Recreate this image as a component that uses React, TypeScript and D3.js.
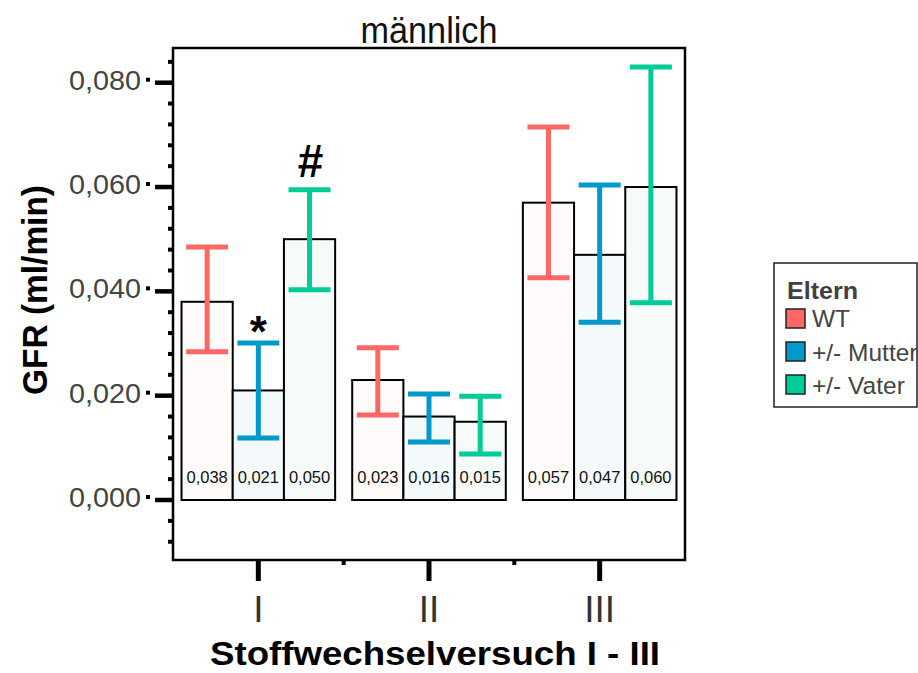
import React from "react";
import * as d3 from "d3";

// Categories, groups and values
const categories = ["I", "II", "III"];
const groups = ["WT", "+/- Mutter", "+/- Vater"];
const means = [
  [0.038, 0.021, 0.05],
  [0.023, 0.016, 0.015],
  [0.057, 0.047, 0.06],
];
const lower = [
  [0.0284, 0.0119, 0.0403],
  [0.0163, 0.0111, 0.0088],
  [0.0426, 0.0341, 0.0378],
];
const upper = [
  [0.0485, 0.0301, 0.0595],
  [0.0292, 0.0203, 0.0199],
  [0.0715, 0.0604, 0.083],
];
const valueLabels = [
  ["0,038", "0,021", "0,050"],
  ["0,023", "0,016", "0,015"],
  ["0,057", "0,047", "0,060"],
];
const yTicks = [0, 0.02, 0.04, 0.06, 0.08];
const yTickLabels = ["0,000", "0,020", "0,040", "0,060", "0,080"];
const marks = [
  { cat: "I", group: "+/- Mutter", text: "*" },
  { cat: "I", group: "+/- Vater", text: "#" },
];

const lineColors = ["#FF6666", "#0099CC", "#00CC99"];
const fillColors = ["#FFFBFB", "#F4F9FC", "#F6FBF9"];

const narrow = "'Liberation Sans Narrow', 'Arial Narrow', Arial, sans-serif";

export default function App() {
  const W = 918;
  const H = 673;
  const left = 173;
  const right = 685;
  const top = 48;
  const bottom = 560;

  const x = d3.scaleBand<string>().domain(categories).range([left, right]).paddingInner(0.1).paddingOuter(0.05);
  const xi = d3.scaleBand<string>().domain(groups).range([0, x.bandwidth()]);
  const y = d3.scaleLinear().domain([0, 0.08]).range([500, 82.7]);

  const minorY: number[] = d3.range(-8, 85, 4).map((v) => v / 1000).filter((v) => Math.round(v * 1000) % 20 !== 0);
  const step = x.step();
  const minorX = [1, 2].map((i) => left + step * i);

  const cap = 42;

  return (
    <svg width={W} height={H} style={{ position: "absolute", left: 0, top: 0, background: "#fff" }} fontFamily="Arial, 'Liberation Sans', sans-serif">
      {/* title */}
      <text x={(left + right) / 2} y={43} textAnchor="middle" fontSize={37} fill="#111" fontFamily={narrow} textLength={137} lengthAdjust="spacingAndGlyphs">
        männlich
      </text>

      {/* bars */}
      {categories.map((c, ci) =>
        groups.map((g, gi) => {
          const x0 = (x(c) as number) + (xi(g) as number);
          const w = xi.bandwidth();
          return (
            <g key={c + g}>
              <rect x={x0} y={y(means[ci][gi])} width={w} height={y(0) - y(means[ci][gi])} fill={fillColors[gi]} stroke="#000" strokeWidth={2} />
              <text x={x0 + w / 2} y={483} textAnchor="middle" fontSize={16.5} fill="#111">
                {valueLabels[ci][gi]}
              </text>
            </g>
          );
        })
      )}

      {/* error bars */}
      {categories.map((c, ci) =>
        groups.map((g, gi) => {
          const cx = (x(c) as number) + (xi(g) as number) + xi.bandwidth() / 2;
          const col = lineColors[gi];
          return (
            <g key={"e" + c + g} stroke={col} strokeWidth={5}>
              <line x1={cx} x2={cx} y1={y(upper[ci][gi])} y2={y(lower[ci][gi])} />
              <line x1={cx - cap / 2} x2={cx + cap / 2} y1={y(upper[ci][gi])} y2={y(upper[ci][gi])} />
              <line x1={cx - cap / 2} x2={cx + cap / 2} y1={y(lower[ci][gi])} y2={y(lower[ci][gi])} />
            </g>
          );
        })
      )}

      {/* significance marks */}
      {marks.map((m) => {
        const ci = categories.indexOf(m.cat);
        const gi = groups.indexOf(m.group);
        const cx = (x(m.cat) as number) + (xi(m.group) as number) + xi.bandwidth() / 2;
        const isStar = m.text === "*";
        return (
          <text key={m.text} x={cx + (isStar ? 0 : 1)} y={y(upper[ci][gi]) + (isStar ? 4 : -13)} textAnchor="middle" fontWeight="bold" fontSize={isStar ? 44 : 46} fill="#000">
            {m.text}
          </text>
        );
      })}

      {/* frame */}
      <rect x={left} y={top} width={right - left} height={bottom - top} fill="none" stroke="#000" strokeWidth={2.5} />

      {/* y axis */}
      {minorY.map((v) => (
        <rect key={"my" + v} x={left - 5} y={y(v) - 2} width={5} height={4} fill="#000" />
      ))}
      {yTicks.map((v, i) => (
        <g key={"ty" + v}>
          <line x1={155} x2={left} y1={y(v)} y2={y(v)} stroke="#000" strokeWidth={4.5} />
          <rect x={146} y={y(v) - 5} width={4} height={4} fill="#000" />
          <text x={141} y={y(v) + 7} textAnchor="end" fontSize={28} fill="#444" textLength={72} lengthAdjust="spacingAndGlyphs">
            {yTickLabels[i]}
          </text>
        </g>
      ))}
      <text transform={`translate(47, 290) rotate(-90)`} textAnchor="middle" fontWeight="bold" fontSize={35} fill="#000" textLength={210} lengthAdjust="spacingAndGlyphs">
        GFR (ml/min)
      </text>

      {/* x axis */}
      {minorX.map((v) => (
        <rect key={"mx" + v} x={v - 2} y={bottom} width={4} height={5} fill="#000" />
      ))}
      {categories.map((c) => {
        const cx = (x(c) as number) + x.bandwidth() / 2;
        return (
          <g key={"tx" + c}>
            <line x1={cx} x2={cx} y1={bottom} y2={581} stroke="#000" strokeWidth={5} />
            <text x={cx} y={622} textAnchor="middle" fontSize={37} fill="#333" fontFamily={narrow}>
              {c}
            </text>
          </g>
        );
      })}
      <text x={(left + right) / 2 + 6} y={665} textAnchor="middle" fontWeight="bold" fontSize={34} fill="#000" textLength={450} lengthAdjust="spacingAndGlyphs">
        Stoffwechselversuch I - III
      </text>

      {/* legend */}
      <rect x={774} y={263} width={143} height={144} fill="#fff" stroke="#222" strokeWidth={1.5} />
      <text x={787} y={299} fontWeight="bold" fontSize={23} fill="#404040" textLength={71} lengthAdjust="spacingAndGlyphs">
        Eltern
      </text>
      {groups.map((g, gi) => (
        <g key={"lg" + g}>
          <rect x={786} y={309 + gi * 33} width={19} height={19} fill={lineColors[gi]} stroke="#222" strokeWidth={1.5} />
          <text x={812} y={327 + gi * 33.5} fontSize={24.5} fill="#444">
            {g}
          </text>
        </g>
      ))}
    </svg>
  );
}
